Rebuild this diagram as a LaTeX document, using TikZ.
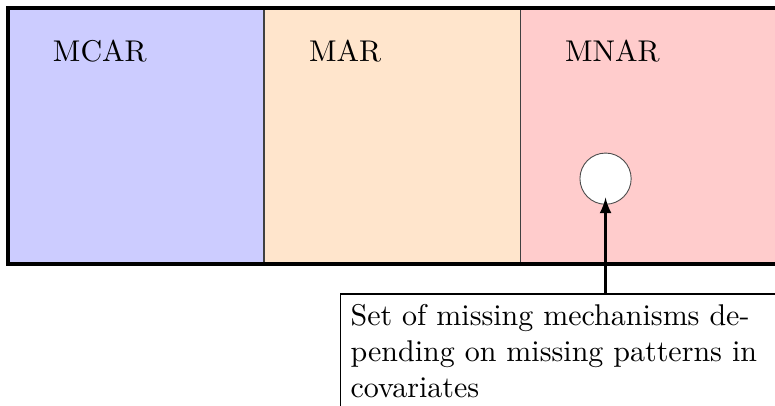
\documentclass[tikz,border=0pt]{standalone}
\begin{document}
\begin{tikzpicture}[
  zone/.style={minimum width=3cm, minimum height=3cm,
               inner sep=0pt, outer sep=0pt, anchor=south west},
  divider/.style={draw=black!75, line width=0.4pt},
  zlabel/.style={anchor=base west, inner sep=0pt},
  hole/.style={circle, draw=black!70, line width=0.3pt, fill=white, minimum size=0.6cm, inner sep=0pt},
  note/.style={draw=black, line width=0.4pt, text width=5cm, align=left, anchor=north west},
  pointer/.style={-latex, thick}
]
% visible window
\clip (-0.0937,-1.652) rectangle (8.985,3.093);

% the three mechanism zones
\node[zone, fill=blue!20]   (mcar) at (0,0) {};
\node[zone, fill=orange!20] (mar)  at (3,0) {};
\node[zone, fill=red!20]    (mnar) at (6,0) {};

% borders between zones
\draw[divider] (mar.south west) -- (mar.north west);
\draw[divider] (mnar.south west) -- (mnar.north west);

% outer frame
\draw[very thick] (mnar.north east) -- (mcar.north west) -- (mcar.south west) -- (mnar.south east);

% zone titles
\node[zlabel] (tmcar) at (0.52,2.37) {MCAR};
\node[zlabel] (tmar)  at (3.52,2.37) {MAR};
\node[zlabel] (tmnar) at (6.52,2.37) {MNAR};

% subset inside MNAR
\node[hole] (sub) at (7,1) {};

% explanatory note
\node[note] (expl) at (3.889,-0.345) {Set of missing mechanisms de-\\pending on missing patterns in\\covariates};

\draw[pointer] (sub |- expl.north) -- ([yshift=2.4pt]sub.south);
\end{tikzpicture}
\end{document}
